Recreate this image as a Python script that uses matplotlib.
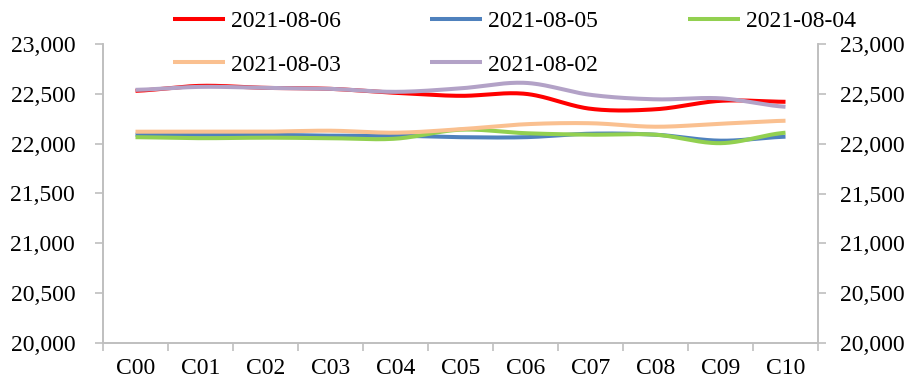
import numpy as np
import matplotlib
matplotlib.use("Agg")
import matplotlib.pyplot as plt
from matplotlib.ticker import FuncFormatter, FixedLocator

categories = ["C00", "C01", "C02", "C03", "C04", "C05", "C06", "C07", "C08", "C09", "C10"]
series_names = ["2021-08-06", "2021-08-05", "2021-08-04", "2021-08-03", "2021-08-02"]
s_0806 = [22530, 22580, 22560, 22550, 22510, 22480, 22500, 22350, 22345, 22430, 22420]
s_0805 = [22090, 22090, 22090, 22080, 22080, 22065, 22065, 22100, 22090, 22030, 22070]
s_0804 = [22065, 22055, 22060, 22055, 22050, 22140, 22105, 22090, 22090, 22005, 22110]
s_0803 = [22120, 22120, 22120, 22130, 22110, 22145, 22195, 22205, 22170, 22200, 22230]
s_0802 = [22540, 22570, 22560, 22550, 22520, 22555, 22610, 22490, 22445, 22455, 22370]
colors = ["#FF0000", "#4F81BD", "#92D050", "#FAC090", "#B3A2C7"]
y_ticks = [20000, 20500, 21000, 21500, 22000, 22500, 23000]

plt.rcParams['font.family'] = ['Liberation Serif', 'DejaVu Serif']


def smooth(xs, ys, n=30):
    xs = np.asarray(xs, float)
    ys = np.asarray(ys, float)
    px = np.concatenate([[2 * xs[0] - xs[1]], xs, [2 * xs[-1] - xs[-2]]])
    py = np.concatenate([[ys[0]], ys, [ys[-1]]])
    ox, oy = [], []
    t = np.linspace(0, 1, n, endpoint=False)
    for i in range(1, len(px) - 2):
        for arr, out in ((px, ox), (py, oy)):
            p0, p1, p2, p3 = arr[i - 1], arr[i], arr[i + 1], arr[i + 2]
            out.extend(0.5 * ((2 * p1) + (-p0 + p2) * t + (2 * p0 - 5 * p1 + 4 * p2 - p3) * t ** 2
                              + (-p0 + 3 * p1 - 3 * p2 + p3) * t ** 3))
    ox.append(xs[-1]); oy.append(ys[-1])
    return np.array(ox), np.array(oy)


fig = plt.figure(figsize=(9.08, 3.82), dpi=100)
ax = fig.add_axes([103 / 908, 1 - 343 / 382, 715 / 908, 299 / 382])
x = np.arange(len(categories))
data = [s_0806, s_0805, s_0804, s_0803, s_0802]
handles = []
for name, vals, c in zip(series_names, data, colors):
    sx, sy = smooth(x, vals)
    h, = ax.plot(sx, sy, color=c, lw=2.9, label=name, solid_capstyle='butt')
    handles.append(h)

FS = 17
ax.set_xlim(-0.5, len(categories) - 0.5)
ax.set_ylim(20000, 23000)
ax.set_yticks(y_ticks)
fmt = FuncFormatter(lambda v, p: f"{int(v):,}")
ax.yaxis.set_major_formatter(fmt)
ax.set_xticks(x)
ax.set_xticklabels(categories)
ax.xaxis.set_minor_locator(FixedLocator(np.arange(-0.5, len(categories), 1.0)))
ax.tick_params(axis='x', which='major', length=0, pad=11, labelsize=FS)
ax.tick_params(axis='x', which='minor', length=6, color='#BFBFBF', width=1.2)
ax.tick_params(axis='y', length=6, color='#BFBFBF', width=1.2, pad=14, labelsize=FS)

ax2 = ax.twinx()
ax2.set_ylim(20000, 23000)
ax2.set_yticks(y_ticks)
ax2.yaxis.set_major_formatter(fmt)
ax2.tick_params(axis='y', length=6, color='#BFBFBF', width=1.2, pad=10, labelsize=FS)

for a in (ax, ax2):
    a.spines['top'].set_visible(False)
    for s in ('left', 'right', 'bottom'):
        a.spines[s].set_color('#BFBFBF')
        a.spines[s].set_linewidth(1.2)

order = [0, 3, 1, 4, 2]
fig.legend([handles[i] for i in order], [series_names[i] for i in order], ncol=3,
           loc='center left', bbox_to_anchor=(173 / 908, 1 - 43 / 382), frameon=False,
           fontsize=FS, handlelength=2.2, handletextpad=0.25, columnspacing=3.8,
           labelspacing=0.95, borderaxespad=0, borderpad=0)

fig.savefig("out.png", dpi=100)
